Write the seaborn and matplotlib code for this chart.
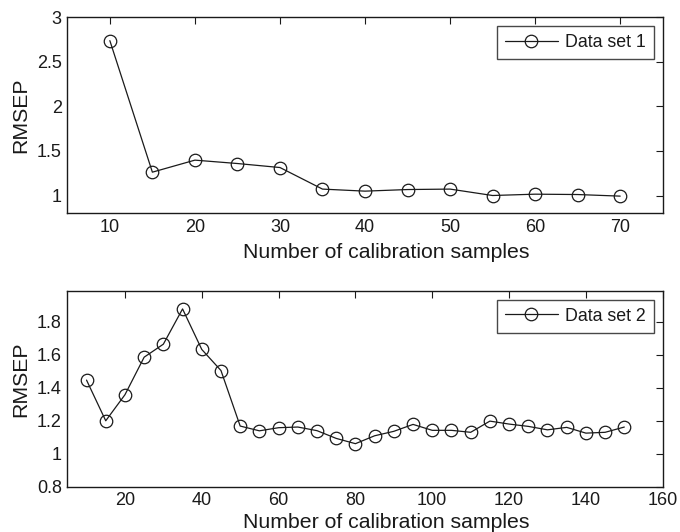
import matplotlib
matplotlib.use("Agg")
import matplotlib.pyplot as plt
import seaborn as sns
import pandas as pd
from matplotlib.ticker import FuncFormatter

# Data set 1
n_samples_1 = [10, 15, 20, 25, 30, 35, 40, 45, 50, 55, 60, 65, 70]
rmsep_1 = [2.738, 1.262, 1.397, 1.359, 1.314, 1.072, 1.049, 1.067, 1.072, 1.000, 1.015, 1.011, 0.993]

# Data set 2
n_samples_2 = [10, 15, 20, 25, 30, 35, 40, 45, 50, 55, 60, 65, 70, 75, 80,
               85, 90, 95, 100, 105, 110, 115, 120, 125, 130, 135, 140, 145, 150]
rmsep_2 = [1.447, 1.200, 1.358, 1.586, 1.665, 1.879, 1.633, 1.505, 1.168, 1.139,
           1.158, 1.162, 1.140, 1.093, 1.061, 1.109, 1.136, 1.178, 1.142, 1.142,
           1.130, 1.198, 1.180, 1.166, 1.145, 1.160, 1.125, 1.130, 1.162]

labels = ["Data set 1", "Data set 2"]
xlabel = "Number of calibration samples"
ylabel = "RMSEP"
xticks_1 = [10, 20, 30, 40, 50, 60, 70]
yticks_1 = [1, 1.5, 2, 2.5, 3]
xticks_2 = [20, 40, 60, 80, 100, 120, 140, 160]
yticks_2 = [0.8, 1.0, 1.2, 1.4, 1.6, 1.8]

sns.set_style("white")
plt.rcParams["font.family"] = ["Liberation Sans", "DejaVu Sans"]
plt.rcParams["xtick.direction"] = "in"
plt.rcParams["ytick.direction"] = "in"

fig = plt.figure(figsize=(6.8, 5.32), dpi=100)
ax1 = fig.add_axes([0.099, 0.599, 0.8756, 0.3685])
ax2 = fig.add_axes([0.099, 0.0852, 0.8756, 0.3685])

df1 = pd.DataFrame({"x": n_samples_1, "y": rmsep_1})
df2 = pd.DataFrame({"x": n_samples_2, "y": rmsep_2})

fmt = FuncFormatter(lambda v, p: "%g" % round(v, 3))

for ax, df, lab, xt, yt, xl, yl, xpad, ylab_y in [
    (ax1, df1, labels[0], xticks_1, yticks_1, (5, 75), (0.8, 3.0), 5, 0.5),
    (ax2, df2, labels[1], xticks_2, yticks_2, (5, 160), (0.8, 1.99), 2.5, 0.55),
]:
    sns.lineplot(data=df, x="x", y="y", ax=ax, color="#1a1a1a", linewidth=0.9,
                 marker="o", markersize=9, markerfacecolor="none",
                 markeredgecolor="#1a1a1a", markeredgewidth=0.9, label=lab)
    ax.set_xlim(*xl)
    ax.set_ylim(*yl)
    ax.set_xticks(xt)
    ax.set_yticks(yt)
    ax.yaxis.set_major_formatter(fmt)
    ax.xaxis.set_major_formatter(fmt)
    ax.tick_params(axis="both", which="both", direction="in", length=5, width=0.8,
                   top=True, right=True, labelsize=13, colors="#1a1a1a", pad=4)
    for s in ax.spines.values():
        s.set_visible(True)
        s.set_color("#1a1a1a")
        s.set_linewidth(1.0)
    ax.set_xlabel(xlabel, fontsize=15.3, color="#1a1a1a", labelpad=xpad)
    ax.xaxis.label.set_x(0.536)
    ax.set_ylabel(ylabel, fontsize=15.3, color="#1a1a1a", labelpad=5)
    ax.yaxis.label.set_y(ylab_y)
    leg = ax.legend(loc="upper right", fontsize=12.8, frameon=True, fancybox=False,
                    edgecolor="#1a1a1a", borderaxespad=0.5, handlelength=3.0,
                    handletextpad=0.4, borderpad=0.45)
    leg.get_frame().set_linewidth(1.0)
    for t in leg.get_texts():
        t.set_color("#1a1a1a")

fig.savefig("out.png", dpi=100)
